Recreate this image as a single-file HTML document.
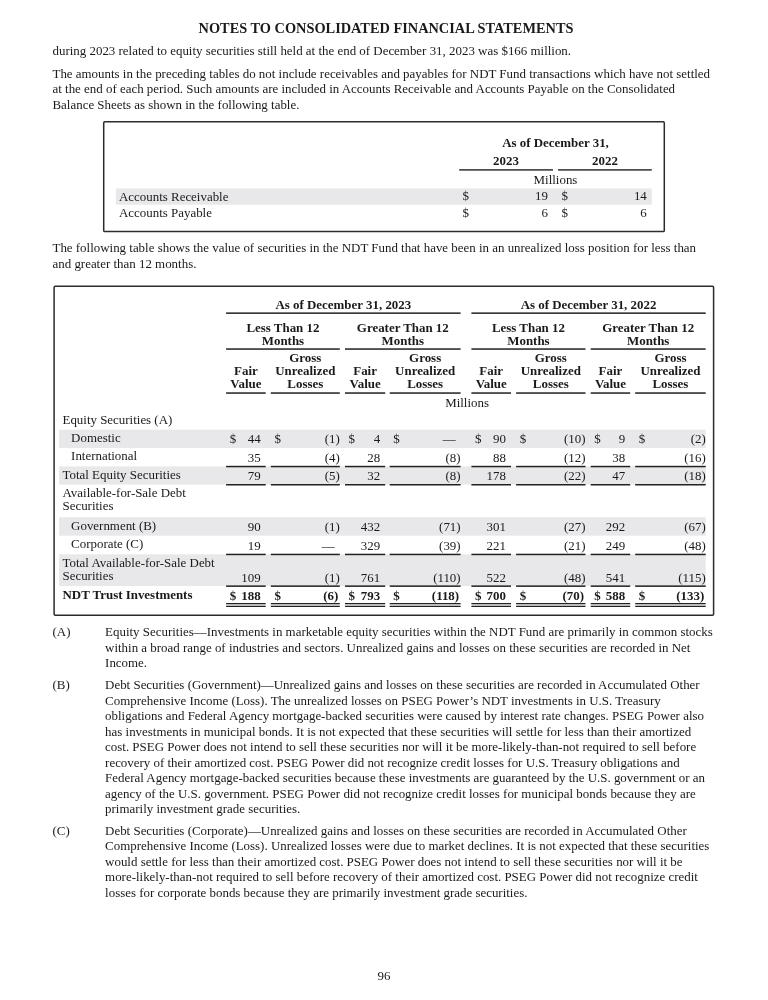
<!DOCTYPE html>
<html><head><meta charset="utf-8"><style>
html,body{margin:0;padding:0;background:#fff;width:768px;height:1000px;overflow:hidden}
.t{position:absolute;font-family:"Liberation Serif",serif;font-size:12.93px;color:#1a1a1a;white-space:nowrap}
.r{position:absolute}
#pg{position:absolute;left:0;top:0;width:768px;height:1000px;will-change:transform}
</style></head><body><div id="pg">
<svg class="r" style="left:0;top:0" width="768" height="1000" viewBox="0 0 768 1000">
<rect x="115.80" y="188.40" width="536.00" height="16.30" fill="#e8e8ea"/>
<rect x="59.10" y="429.70" width="646.60" height="18.30" fill="#e8e8ea"/>
<rect x="59.10" y="466.40" width="646.60" height="18.20" fill="#e8e8ea"/>
<rect x="59.10" y="517.20" width="646.60" height="18.50" fill="#e8e8ea"/>
<rect x="59.10" y="554.30" width="646.60" height="31.70" fill="#e8e8ea"/>
<rect x="103.70" y="121.70" width="560.60" height="109.90" rx="1.2" fill="none" stroke="#2c2c2c" stroke-width="1.5"/>
<rect x="459.20" y="169.20" width="93.80" height="1.40" fill="#222222"/>
<rect x="558.00" y="169.20" width="93.80" height="1.40" fill="#222222"/>
<rect x="54.10" y="286.20" width="659.50" height="329.00" rx="1.2" fill="none" stroke="#2c2c2c" stroke-width="1.5"/>
<rect x="226.10" y="312.40" width="234.50" height="1.50" fill="#222222"/>
<rect x="226.10" y="348.30" width="113.70" height="1.50" fill="#222222"/>
<rect x="345.00" y="348.30" width="115.60" height="1.50" fill="#222222"/>
<rect x="226.10" y="392.30" width="39.60" height="1.50" fill="#222222"/>
<rect x="270.80" y="392.30" width="69.00" height="1.50" fill="#222222"/>
<rect x="345.00" y="392.30" width="40.20" height="1.50" fill="#222222"/>
<rect x="389.70" y="392.30" width="70.90" height="1.50" fill="#222222"/>
<rect x="471.40" y="312.40" width="234.30" height="1.50" fill="#222222"/>
<rect x="471.40" y="348.30" width="114.10" height="1.50" fill="#222222"/>
<rect x="590.70" y="348.30" width="115.00" height="1.50" fill="#222222"/>
<rect x="471.40" y="392.30" width="39.60" height="1.50" fill="#222222"/>
<rect x="516.10" y="392.30" width="69.40" height="1.50" fill="#222222"/>
<rect x="590.70" y="392.30" width="39.50" height="1.50" fill="#222222"/>
<rect x="635.20" y="392.30" width="70.50" height="1.50" fill="#222222"/>
<rect x="226.10" y="465.80" width="39.60" height="1.50" fill="#222222"/>
<rect x="270.80" y="465.80" width="69.00" height="1.50" fill="#222222"/>
<rect x="345.00" y="465.80" width="40.20" height="1.50" fill="#222222"/>
<rect x="389.70" y="465.80" width="70.90" height="1.50" fill="#222222"/>
<rect x="471.40" y="465.80" width="39.60" height="1.50" fill="#222222"/>
<rect x="516.10" y="465.80" width="69.40" height="1.50" fill="#222222"/>
<rect x="590.70" y="465.80" width="39.50" height="1.50" fill="#222222"/>
<rect x="635.20" y="465.80" width="70.50" height="1.50" fill="#222222"/>
<rect x="226.10" y="484.00" width="39.60" height="1.50" fill="#222222"/>
<rect x="270.80" y="484.00" width="69.00" height="1.50" fill="#222222"/>
<rect x="345.00" y="484.00" width="40.20" height="1.50" fill="#222222"/>
<rect x="389.70" y="484.00" width="70.90" height="1.50" fill="#222222"/>
<rect x="471.40" y="484.00" width="39.60" height="1.50" fill="#222222"/>
<rect x="516.10" y="484.00" width="69.40" height="1.50" fill="#222222"/>
<rect x="590.70" y="484.00" width="39.50" height="1.50" fill="#222222"/>
<rect x="635.20" y="484.00" width="70.50" height="1.50" fill="#222222"/>
<rect x="226.10" y="553.70" width="39.60" height="1.50" fill="#222222"/>
<rect x="270.80" y="553.70" width="69.00" height="1.50" fill="#222222"/>
<rect x="345.00" y="553.70" width="40.20" height="1.50" fill="#222222"/>
<rect x="389.70" y="553.70" width="70.90" height="1.50" fill="#222222"/>
<rect x="471.40" y="553.70" width="39.60" height="1.50" fill="#222222"/>
<rect x="516.10" y="553.70" width="69.40" height="1.50" fill="#222222"/>
<rect x="590.70" y="553.70" width="39.50" height="1.50" fill="#222222"/>
<rect x="635.20" y="553.70" width="70.50" height="1.50" fill="#222222"/>
<rect x="226.10" y="585.40" width="39.60" height="1.50" fill="#222222"/>
<rect x="270.80" y="585.40" width="69.00" height="1.50" fill="#222222"/>
<rect x="345.00" y="585.40" width="40.20" height="1.50" fill="#222222"/>
<rect x="389.70" y="585.40" width="70.90" height="1.50" fill="#222222"/>
<rect x="471.40" y="585.40" width="39.60" height="1.50" fill="#222222"/>
<rect x="516.10" y="585.40" width="69.40" height="1.50" fill="#222222"/>
<rect x="590.70" y="585.40" width="39.50" height="1.50" fill="#222222"/>
<rect x="635.20" y="585.40" width="70.50" height="1.50" fill="#222222"/>
<rect x="226.10" y="603.00" width="39.60" height="1.00" fill="#222222"/>
<rect x="226.10" y="604.00" width="39.60" height="2.00" fill="#bbbbbb"/>
<rect x="226.10" y="606.00" width="39.60" height="1.00" fill="#222222"/>
<rect x="270.80" y="603.00" width="69.00" height="1.00" fill="#222222"/>
<rect x="270.80" y="604.00" width="69.00" height="2.00" fill="#bbbbbb"/>
<rect x="270.80" y="606.00" width="69.00" height="1.00" fill="#222222"/>
<rect x="345.00" y="603.00" width="40.20" height="1.00" fill="#222222"/>
<rect x="345.00" y="604.00" width="40.20" height="2.00" fill="#bbbbbb"/>
<rect x="345.00" y="606.00" width="40.20" height="1.00" fill="#222222"/>
<rect x="389.70" y="603.00" width="70.90" height="1.00" fill="#222222"/>
<rect x="389.70" y="604.00" width="70.90" height="2.00" fill="#bbbbbb"/>
<rect x="389.70" y="606.00" width="70.90" height="1.00" fill="#222222"/>
<rect x="471.40" y="603.00" width="39.60" height="1.00" fill="#222222"/>
<rect x="471.40" y="604.00" width="39.60" height="2.00" fill="#bbbbbb"/>
<rect x="471.40" y="606.00" width="39.60" height="1.00" fill="#222222"/>
<rect x="516.10" y="603.00" width="69.40" height="1.00" fill="#222222"/>
<rect x="516.10" y="604.00" width="69.40" height="2.00" fill="#bbbbbb"/>
<rect x="516.10" y="606.00" width="69.40" height="1.00" fill="#222222"/>
<rect x="590.70" y="603.00" width="39.50" height="1.00" fill="#222222"/>
<rect x="590.70" y="604.00" width="39.50" height="2.00" fill="#bbbbbb"/>
<rect x="590.70" y="606.00" width="39.50" height="1.00" fill="#222222"/>
<rect x="635.20" y="603.00" width="70.50" height="1.00" fill="#222222"/>
<rect x="635.20" y="604.00" width="70.50" height="2.00" fill="#bbbbbb"/>
<rect x="635.20" y="606.00" width="70.50" height="1.00" fill="#222222"/>
</svg>
<div class="t" style="left:136.00px;top:18.63px;width:500px;text-align:center;font-size:14.35px;line-height:18.655px;font-weight:bold;">NOTES TO CONSOLIDATED FINANCIAL STATEMENTS</div>
<div class="t" style="left:52.50px;top:43.43px;line-height:16.809px;">during 2023 related to equity securities still held at the end of December 31, 2023 was $166 million.</div>
<div class="t" style="left:52.50px;top:65.63px;line-height:16.809px;">The amounts in the preceding tables do not include receivables and payables for NDT Fund transactions which have not settled</div>
<div class="t" style="left:52.50px;top:81.08px;line-height:16.809px;">at the end of each period. Such amounts are included in Accounts Receivable and Accounts Payable on the Consolidated</div>
<div class="t" style="left:52.50px;top:96.53px;line-height:16.809px;">Balance Sheets as shown in the following table.</div>
<div class="t" style="left:455.50px;top:135.03px;width:200px;text-align:center;line-height:16.809px;font-weight:bold;">As of December 31,</div>
<div class="t" style="left:459.00px;top:153.03px;width:94px;text-align:center;line-height:16.809px;font-weight:bold;">2023</div>
<div class="t" style="left:558.00px;top:153.03px;width:94px;text-align:center;line-height:16.809px;font-weight:bold;">2022</div>
<div class="t" style="left:459.00px;top:171.78px;width:193px;text-align:center;line-height:16.809px;">Millions</div>
<div class="t" style="left:119.00px;top:188.83px;line-height:16.809px;">Accounts Receivable</div>
<div class="t" style="left:462.50px;top:188.23px;line-height:16.809px;">$</div>
<div class="t" style="left:488.00px;top:188.23px;width:60px;text-align:right;line-height:16.809px;">19</div>
<div class="t" style="left:561.50px;top:188.23px;line-height:16.809px;">$</div>
<div class="t" style="left:586.80px;top:188.23px;width:60px;text-align:right;line-height:16.809px;">14</div>
<div class="t" style="left:119.00px;top:205.23px;line-height:16.809px;">Accounts Payable</div>
<div class="t" style="left:462.50px;top:204.83px;line-height:16.809px;">$</div>
<div class="t" style="left:488.00px;top:204.83px;width:60px;text-align:right;line-height:16.809px;">6</div>
<div class="t" style="left:561.50px;top:204.83px;line-height:16.809px;">$</div>
<div class="t" style="left:586.80px;top:204.83px;width:60px;text-align:right;line-height:16.809px;">6</div>
<div class="t" style="left:52.50px;top:240.33px;line-height:16.809px;">The following table shows the value of securities in the NDT Fund that have been in an unrealized loss position for less than</div>
<div class="t" style="left:52.50px;top:255.73px;line-height:16.809px;">and greater than 12 months.</div>
<div class="t" style="left:223.35px;top:296.83px;width:240px;text-align:center;line-height:16.809px;font-weight:bold;">As of December 31, 2023</div>
<div class="t" style="left:225.95px;top:319.63px;width:114px;text-align:center;line-height:16.809px;font-weight:bold;">Less Than 12</div>
<div class="t" style="left:225.95px;top:332.63px;width:114px;text-align:center;line-height:16.809px;font-weight:bold;">Months</div>
<div class="t" style="left:345.80px;top:319.63px;width:114px;text-align:center;line-height:16.809px;font-weight:bold;">Greater Than 12</div>
<div class="t" style="left:345.80px;top:332.63px;width:114px;text-align:center;line-height:16.809px;font-weight:bold;">Months</div>
<div class="t" style="left:220.90px;top:362.93px;width:50px;text-align:center;line-height:16.809px;font-weight:bold;">Fair</div>
<div class="t" style="left:220.90px;top:375.63px;width:50px;text-align:center;line-height:16.809px;font-weight:bold;">Value</div>
<div class="t" style="left:265.30px;top:350.03px;width:80px;text-align:center;line-height:16.809px;font-weight:bold;">Gross</div>
<div class="t" style="left:265.30px;top:362.93px;width:80px;text-align:center;line-height:16.809px;font-weight:bold;">Unrealized</div>
<div class="t" style="left:265.30px;top:375.63px;width:80px;text-align:center;line-height:16.809px;font-weight:bold;">Losses</div>
<div class="t" style="left:340.10px;top:362.93px;width:50px;text-align:center;line-height:16.809px;font-weight:bold;">Fair</div>
<div class="t" style="left:340.10px;top:375.63px;width:50px;text-align:center;line-height:16.809px;font-weight:bold;">Value</div>
<div class="t" style="left:385.15px;top:350.03px;width:80px;text-align:center;line-height:16.809px;font-weight:bold;">Gross</div>
<div class="t" style="left:385.15px;top:362.93px;width:80px;text-align:center;line-height:16.809px;font-weight:bold;">Unrealized</div>
<div class="t" style="left:385.15px;top:375.63px;width:80px;text-align:center;line-height:16.809px;font-weight:bold;">Losses</div>
<div class="t" style="left:468.55px;top:296.83px;width:240px;text-align:center;line-height:16.809px;font-weight:bold;">As of December 31, 2022</div>
<div class="t" style="left:471.45px;top:319.63px;width:114px;text-align:center;line-height:16.809px;font-weight:bold;">Less Than 12</div>
<div class="t" style="left:471.45px;top:332.63px;width:114px;text-align:center;line-height:16.809px;font-weight:bold;">Months</div>
<div class="t" style="left:591.20px;top:319.63px;width:114px;text-align:center;line-height:16.809px;font-weight:bold;">Greater Than 12</div>
<div class="t" style="left:591.20px;top:332.63px;width:114px;text-align:center;line-height:16.809px;font-weight:bold;">Months</div>
<div class="t" style="left:466.20px;top:362.93px;width:50px;text-align:center;line-height:16.809px;font-weight:bold;">Fair</div>
<div class="t" style="left:466.20px;top:375.63px;width:50px;text-align:center;line-height:16.809px;font-weight:bold;">Value</div>
<div class="t" style="left:510.80px;top:350.03px;width:80px;text-align:center;line-height:16.809px;font-weight:bold;">Gross</div>
<div class="t" style="left:510.80px;top:362.93px;width:80px;text-align:center;line-height:16.809px;font-weight:bold;">Unrealized</div>
<div class="t" style="left:510.80px;top:375.63px;width:80px;text-align:center;line-height:16.809px;font-weight:bold;">Losses</div>
<div class="t" style="left:585.45px;top:362.93px;width:50px;text-align:center;line-height:16.809px;font-weight:bold;">Fair</div>
<div class="t" style="left:585.45px;top:375.63px;width:50px;text-align:center;line-height:16.809px;font-weight:bold;">Value</div>
<div class="t" style="left:630.45px;top:350.03px;width:80px;text-align:center;line-height:16.809px;font-weight:bold;">Gross</div>
<div class="t" style="left:630.45px;top:362.93px;width:80px;text-align:center;line-height:16.809px;font-weight:bold;">Unrealized</div>
<div class="t" style="left:630.45px;top:375.63px;width:80px;text-align:center;line-height:16.809px;font-weight:bold;">Losses</div>
<div class="t" style="left:417.10px;top:394.73px;width:100px;text-align:center;line-height:16.809px;">Millions</div>
<div class="t" style="left:62.50px;top:411.53px;line-height:16.809px;">Equity Securities (A)</div>
<div class="t" style="left:71.10px;top:430.03px;line-height:16.809px;">Domestic</div>
<div class="t" style="left:190.65px;top:431.03px;width:70px;text-align:right;line-height:16.809px;">44</div>
<div class="t" style="left:229.70px;top:431.03px;line-height:16.809px;">$</div>
<div class="t" style="left:269.85px;top:431.03px;width:70px;text-align:right;line-height:16.809px;">(1)</div>
<div class="t" style="left:274.40px;top:431.03px;line-height:16.809px;">$</div>
<div class="t" style="left:310.15px;top:431.03px;width:70px;text-align:right;line-height:16.809px;">4</div>
<div class="t" style="left:348.60px;top:431.03px;line-height:16.809px;">$</div>
<div class="t" style="left:385.55px;top:431.03px;width:70px;text-align:right;line-height:16.809px;">—</div>
<div class="t" style="left:393.30px;top:431.03px;line-height:16.809px;">$</div>
<div class="t" style="left:435.95px;top:431.03px;width:70px;text-align:right;line-height:16.809px;">90</div>
<div class="t" style="left:475.00px;top:431.03px;line-height:16.809px;">$</div>
<div class="t" style="left:515.55px;top:431.03px;width:70px;text-align:right;line-height:16.809px;">(10)</div>
<div class="t" style="left:519.70px;top:431.03px;line-height:16.809px;">$</div>
<div class="t" style="left:555.15px;top:431.03px;width:70px;text-align:right;line-height:16.809px;">9</div>
<div class="t" style="left:594.30px;top:431.03px;line-height:16.809px;">$</div>
<div class="t" style="left:635.75px;top:431.03px;width:70px;text-align:right;line-height:16.809px;">(2)</div>
<div class="t" style="left:638.80px;top:431.03px;line-height:16.809px;">$</div>
<div class="t" style="left:71.10px;top:448.33px;line-height:16.809px;">International</div>
<div class="t" style="left:190.65px;top:449.63px;width:70px;text-align:right;line-height:16.809px;">35</div>
<div class="t" style="left:269.85px;top:449.63px;width:70px;text-align:right;line-height:16.809px;">(4)</div>
<div class="t" style="left:310.15px;top:449.63px;width:70px;text-align:right;line-height:16.809px;">28</div>
<div class="t" style="left:390.65px;top:449.63px;width:70px;text-align:right;line-height:16.809px;">(8)</div>
<div class="t" style="left:435.95px;top:449.63px;width:70px;text-align:right;line-height:16.809px;">88</div>
<div class="t" style="left:515.55px;top:449.63px;width:70px;text-align:right;line-height:16.809px;">(12)</div>
<div class="t" style="left:555.15px;top:449.63px;width:70px;text-align:right;line-height:16.809px;">38</div>
<div class="t" style="left:635.75px;top:449.63px;width:70px;text-align:right;line-height:16.809px;">(16)</div>
<div class="t" style="left:62.50px;top:466.73px;line-height:16.809px;">Total Equity Securities</div>
<div class="t" style="left:190.65px;top:468.03px;width:70px;text-align:right;line-height:16.809px;">79</div>
<div class="t" style="left:269.85px;top:468.03px;width:70px;text-align:right;line-height:16.809px;">(5)</div>
<div class="t" style="left:310.15px;top:468.03px;width:70px;text-align:right;line-height:16.809px;">32</div>
<div class="t" style="left:390.65px;top:468.03px;width:70px;text-align:right;line-height:16.809px;">(8)</div>
<div class="t" style="left:435.95px;top:468.03px;width:70px;text-align:right;line-height:16.809px;">178</div>
<div class="t" style="left:515.55px;top:468.03px;width:70px;text-align:right;line-height:16.809px;">(22)</div>
<div class="t" style="left:555.15px;top:468.03px;width:70px;text-align:right;line-height:16.809px;">47</div>
<div class="t" style="left:635.75px;top:468.03px;width:70px;text-align:right;line-height:16.809px;">(18)</div>
<div class="t" style="left:62.50px;top:484.93px;line-height:16.809px;">Available-for-Sale Debt</div>
<div class="t" style="left:62.50px;top:497.83px;line-height:16.809px;">Securities</div>
<div class="t" style="left:71.10px;top:517.53px;line-height:16.809px;">Government (B)</div>
<div class="t" style="left:190.65px;top:519.33px;width:70px;text-align:right;line-height:16.809px;">90</div>
<div class="t" style="left:269.85px;top:519.33px;width:70px;text-align:right;line-height:16.809px;">(1)</div>
<div class="t" style="left:310.15px;top:519.33px;width:70px;text-align:right;line-height:16.809px;">432</div>
<div class="t" style="left:390.65px;top:519.33px;width:70px;text-align:right;line-height:16.809px;">(71)</div>
<div class="t" style="left:435.95px;top:519.33px;width:70px;text-align:right;line-height:16.809px;">301</div>
<div class="t" style="left:515.55px;top:519.33px;width:70px;text-align:right;line-height:16.809px;">(27)</div>
<div class="t" style="left:555.15px;top:519.33px;width:70px;text-align:right;line-height:16.809px;">292</div>
<div class="t" style="left:635.75px;top:519.33px;width:70px;text-align:right;line-height:16.809px;">(67)</div>
<div class="t" style="left:71.10px;top:536.03px;line-height:16.809px;">Corporate (C)</div>
<div class="t" style="left:190.65px;top:537.63px;width:70px;text-align:right;line-height:16.809px;">19</div>
<div class="t" style="left:264.75px;top:537.63px;width:70px;text-align:right;line-height:16.809px;">—</div>
<div class="t" style="left:310.15px;top:537.63px;width:70px;text-align:right;line-height:16.809px;">329</div>
<div class="t" style="left:390.65px;top:537.63px;width:70px;text-align:right;line-height:16.809px;">(39)</div>
<div class="t" style="left:435.95px;top:537.63px;width:70px;text-align:right;line-height:16.809px;">221</div>
<div class="t" style="left:515.55px;top:537.63px;width:70px;text-align:right;line-height:16.809px;">(21)</div>
<div class="t" style="left:555.15px;top:537.63px;width:70px;text-align:right;line-height:16.809px;">249</div>
<div class="t" style="left:635.75px;top:537.63px;width:70px;text-align:right;line-height:16.809px;">(48)</div>
<div class="t" style="left:62.50px;top:554.63px;line-height:16.809px;">Total Available-for-Sale Debt</div>
<div class="t" style="left:62.50px;top:567.53px;line-height:16.809px;">Securities</div>
<div class="t" style="left:190.65px;top:569.63px;width:70px;text-align:right;line-height:16.809px;">109</div>
<div class="t" style="left:269.85px;top:569.63px;width:70px;text-align:right;line-height:16.809px;">(1)</div>
<div class="t" style="left:310.15px;top:569.63px;width:70px;text-align:right;line-height:16.809px;">761</div>
<div class="t" style="left:390.65px;top:569.63px;width:70px;text-align:right;line-height:16.809px;">(110)</div>
<div class="t" style="left:435.95px;top:569.63px;width:70px;text-align:right;line-height:16.809px;">522</div>
<div class="t" style="left:515.55px;top:569.63px;width:70px;text-align:right;line-height:16.809px;">(48)</div>
<div class="t" style="left:555.15px;top:569.63px;width:70px;text-align:right;line-height:16.809px;">541</div>
<div class="t" style="left:635.75px;top:569.63px;width:70px;text-align:right;line-height:16.809px;">(115)</div>
<div class="t" style="left:62.50px;top:587.03px;line-height:16.809px;font-weight:bold;">NDT Trust Investments</div>
<div class="t" style="left:190.65px;top:588.03px;width:70px;text-align:right;line-height:16.809px;font-weight:bold;">188</div>
<div class="t" style="left:229.70px;top:588.03px;line-height:16.809px;font-weight:bold;">$</div>
<div class="t" style="left:268.35px;top:588.03px;width:70px;text-align:right;line-height:16.809px;font-weight:bold;">(6)</div>
<div class="t" style="left:274.40px;top:588.03px;line-height:16.809px;font-weight:bold;">$</div>
<div class="t" style="left:310.15px;top:588.03px;width:70px;text-align:right;line-height:16.809px;font-weight:bold;">793</div>
<div class="t" style="left:348.60px;top:588.03px;line-height:16.809px;font-weight:bold;">$</div>
<div class="t" style="left:389.15px;top:588.03px;width:70px;text-align:right;line-height:16.809px;font-weight:bold;">(118)</div>
<div class="t" style="left:393.30px;top:588.03px;line-height:16.809px;font-weight:bold;">$</div>
<div class="t" style="left:435.95px;top:588.03px;width:70px;text-align:right;line-height:16.809px;font-weight:bold;">700</div>
<div class="t" style="left:475.00px;top:588.03px;line-height:16.809px;font-weight:bold;">$</div>
<div class="t" style="left:514.05px;top:588.03px;width:70px;text-align:right;line-height:16.809px;font-weight:bold;">(70)</div>
<div class="t" style="left:519.70px;top:588.03px;line-height:16.809px;font-weight:bold;">$</div>
<div class="t" style="left:555.15px;top:588.03px;width:70px;text-align:right;line-height:16.809px;font-weight:bold;">588</div>
<div class="t" style="left:594.30px;top:588.03px;line-height:16.809px;font-weight:bold;">$</div>
<div class="t" style="left:634.25px;top:588.03px;width:70px;text-align:right;line-height:16.809px;font-weight:bold;">(133)</div>
<div class="t" style="left:638.80px;top:588.03px;line-height:16.809px;font-weight:bold;">$</div>
<div class="t" style="left:52.50px;top:624.23px;line-height:16.809px;">(A)</div>
<div class="t" style="left:105.10px;top:624.23px;line-height:16.809px;">Equity Securities—Investments in marketable equity securities within the NDT Fund are primarily in common stocks</div>
<div class="t" style="left:105.10px;top:639.73px;line-height:16.809px;">within a broad range of industries and sectors. Unrealized gains and losses on these securities are recorded in Net</div>
<div class="t" style="left:105.10px;top:655.23px;line-height:16.809px;">Income.</div>
<div class="t" style="left:52.50px;top:677.03px;line-height:16.809px;">(B)</div>
<div class="t" style="left:105.10px;top:677.03px;line-height:16.809px;">Debt Securities (Government)—Unrealized gains and losses on these securities are recorded in Accumulated Other</div>
<div class="t" style="left:105.10px;top:692.53px;line-height:16.809px;">Comprehensive Income (Loss). The unrealized losses on PSEG Power’s NDT investments in U.S. Treasury</div>
<div class="t" style="left:105.10px;top:708.03px;line-height:16.809px;">obligations and Federal Agency mortgage-backed securities were caused by interest rate changes. PSEG Power also</div>
<div class="t" style="left:105.10px;top:723.53px;line-height:16.809px;">has investments in municipal bonds. It is not expected that these securities will settle for less than their amortized</div>
<div class="t" style="left:105.10px;top:739.03px;line-height:16.809px;">cost. PSEG Power does not intend to sell these securities nor will it be more-likely-than-not required to sell before</div>
<div class="t" style="left:105.10px;top:754.53px;line-height:16.809px;">recovery of their amortized cost. PSEG Power did not recognize credit losses for U.S. Treasury obligations and</div>
<div class="t" style="left:105.10px;top:770.03px;line-height:16.809px;">Federal Agency mortgage-backed securities because these investments are guaranteed by the U.S. government or an</div>
<div class="t" style="left:105.10px;top:785.53px;line-height:16.809px;">agency of the U.S. government. PSEG Power did not recognize credit losses for municipal bonds because they are</div>
<div class="t" style="left:105.10px;top:801.03px;line-height:16.809px;">primarily investment grade securities.</div>
<div class="t" style="left:52.50px;top:822.63px;line-height:16.809px;">(C)</div>
<div class="t" style="left:105.10px;top:822.63px;line-height:16.809px;">Debt Securities (Corporate)—Unrealized gains and losses on these securities are recorded in Accumulated Other</div>
<div class="t" style="left:105.10px;top:838.13px;line-height:16.809px;">Comprehensive Income (Loss). Unrealized losses were due to market declines. It is not expected that these securities</div>
<div class="t" style="left:105.10px;top:853.63px;line-height:16.809px;">would settle for less than their amortized cost. PSEG Power does not intend to sell these securities nor will it be</div>
<div class="t" style="left:105.10px;top:869.13px;line-height:16.809px;">more-likely-than-not required to sell before recovery of their amortized cost. PSEG Power did not recognize credit</div>
<div class="t" style="left:105.10px;top:884.63px;line-height:16.809px;">losses for corporate bonds because they are primarily investment grade securities.</div>
<div class="t" style="left:364.00px;top:967.73px;width:40px;text-align:center;line-height:16.809px;">96</div>
</div></body></html>
